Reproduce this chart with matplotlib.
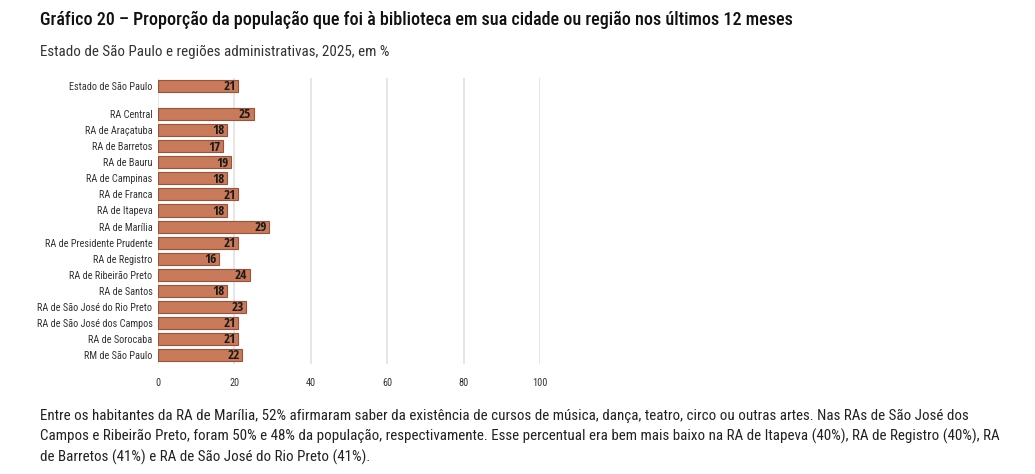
import matplotlib
matplotlib.use("Agg")
import matplotlib.pyplot as plt

BODY = ['Roboto Condensed', 'PT Sans Narrow', 'DejaVu Sans']
plt.rcParams['font.family'] = BODY

categories = ["Estado de São Paulo", "RA Central", "RA de Araçatuba", "RA de Barretos",
              "RA de Bauru", "RA de Campinas", "RA de Franca", "RA de Itapeva",
              "RA de Marília", "RA de Presidente Prudente", "RA de Registro",
              "RA de Ribeirão Preto", "RA de Santos", "RA de São José do Rio Preto",
              "RA de São José dos Campos", "RA de Sorocaba", "RM de São Paulo"]
values = [21, 25, 18, 17, 19, 18, 21, 18, 29, 21, 16, 24, 18, 23, 21, 21, 22]
xticks = [0, 20, 40, 60, 80, 100]

title = "Gráfico 20 – Proporção da população que foi à biblioteca em sua cidade ou região nos últimos 12 meses"
subtitle = "Estado de São Paulo e regiões administrativas, 2025, em %"
note = ("Entre os habitantes da RA de Marília, 52% afirmaram saber da existência de cursos de música, dança, teatro, circo ou outras artes. Nas RAs de São José dos\n"
        "Campos e Ribeirão Preto, foram 50% e 48% da população, respectivamente. Esse percentual era bem mais baixo na RA de Itapeva (40%), RA de Registro (40%), RA\n"
        "de Barretos (41%) e RA de São José do Rio Preto (41%).")

W, H = 1035, 474
fig = plt.figure(figsize=(W / 100, H / 100), dpi=100)

# positions: first bar separated by a gap
ypos = [0.0] + [i + 0.75 for i in range(1, len(categories))]

ax = fig.add_axes([158 / W, 1 - 364 / H, (540 - 158) / W, (364 - 78) / H])
ax.barh(ypos, values, height=0.75, color="#C97A5A", edgecolor="#9A5238", linewidth=0.8, zorder=3)
for y, v in zip(ypos, values):
    ax.text(v - 0.6, y + 0.05, str(v), ha="right", va="center", fontsize=9.5, fontweight="bold",
            family=['Open Sans Condensed', 'Roboto Condensed', 'DejaVu Sans'],
            color="#1a1a1a", zorder=4)
ax.set_yticks(ypos)
ylabels = ax.set_yticklabels(categories, fontsize=9.5, color="#333333")
ax.set_xticks(xticks)
xlabels = ax.set_xticklabels([str(t) for t in xticks], fontsize=9.5, color="#333333")
ax.set_xlim(0, 100)
ax.set_ylim(ypos[-1] + 0.56, -0.5)
ax.grid(axis="x", color="#E2E2E2", linewidth=1.2, zorder=0)
for s in ax.spines.values():
    s.set_visible(False)
ax.tick_params(axis="both", length=0, pad=4)
ax.tick_params(axis="x", pad=10)

t_title = fig.text(40 / W, 1 - 20 / H, title, fontsize=15, color="#111111", va="center", ha="left",
                   fontweight="medium")
t_sub = fig.text(40 / W, 1 - 52 / H, subtitle, fontsize=12, color="#333333", va="center", ha="left")
t_note = fig.text(40 / W, 1 - 437 / H, note, fontsize=12, color="#222222", va="center", ha="left",
                  linespacing=1.5)

# fit text widths to the reference layout
fig.canvas.draw()
r = fig.canvas.get_renderer()
def fit(t, target):
    w = t.get_window_extent(r).width
    t.set_fontsize(t.get_fontsize() * target / w)
fit(t_title, 755)
fit(t_sub, 348)
fit(t_note, 958)
longest = max(ylabels, key=lambda t: t.get_window_extent(r).width)
scale = 116 / longest.get_window_extent(r).width
for t in list(ylabels) + list(xlabels):
    t.set_fontsize(t.get_fontsize() * scale)

fig.savefig("out.png", dpi=100)
